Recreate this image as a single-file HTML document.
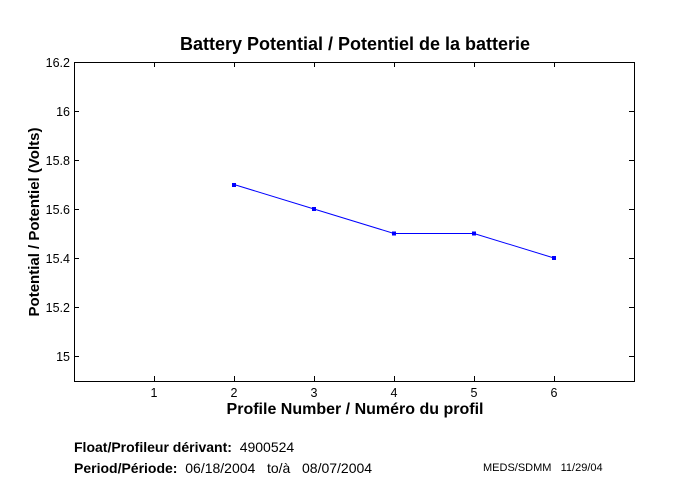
<!DOCTYPE html>
<html><head><style>body{margin:0;background:#fff}svg{display:block}text{white-space:pre}</style></head><body>
<svg width="680" height="500" xmlns="http://www.w3.org/2000/svg" font-family="Liberation Sans, sans-serif">
<rect width="680" height="500" fill="#fff"/>
<text x="355" y="50" font-size="18" font-weight="bold" text-anchor="middle">Battery Potential / Potentiel de la batterie</text>
<rect x="74.5" y="62.5" width="560" height="319" fill="none" stroke="#000" stroke-width="1"/>
<g stroke="#000" stroke-width="1">
<path d="M154.5 381v-5M234.5 381v-5M314.5 381v-5M394.5 381v-5M474.5 381v-5M554.5 381v-5"/>
<path d="M154.5 62v5M234.5 62v5M314.5 62v5M394.5 62v5M474.5 62v5M554.5 62v5"/>
<path d="M74 111.5h5M74 160.5h5M74 209.5h5M74 258.5h5M74 307.5h5M74 356.5h5"/>
<path d="M634 111.5h-5M634 160.5h-5M634 209.5h-5M634 258.5h-5M634 307.5h-5M634 356.5h-5"/>
</g>
<g font-size="12.5" text-anchor="end">
<text x="70" y="67">16.2</text><text x="70" y="116">16</text><text x="70" y="165">15.8</text>
<text x="70" y="214">15.6</text><text x="70" y="263">15.4</text><text x="70" y="312">15.2</text><text x="70" y="361">15</text>
</g>
<g font-size="12.5" text-anchor="middle">
<text x="154" y="397">1</text><text x="234" y="397">2</text><text x="314" y="397">3</text>
<text x="394" y="397">4</text><text x="474" y="397">5</text><text x="554" y="397">6</text>
</g>
<text x="355" y="414" font-size="16" font-weight="bold" text-anchor="middle">Profile Number / Numéro du profil</text>
<text transform="translate(39,222) rotate(-90)" font-size="15" font-weight="bold" text-anchor="middle">Potential / Potentiel (Volts)</text>
<polyline points="234,184.5 314,209 394,233.5 474,233.5 554,258" fill="none" stroke="#00f" stroke-width="1"/>
<g fill="#00f"><rect x="232" y="183" width="4" height="4"/><rect x="312" y="207" width="4" height="4"/><rect x="392" y="231.5" width="4" height="4"/><rect x="472" y="231.5" width="4" height="4"/><rect x="552" y="256" width="4" height="4"/></g>
<text x="74" y="452" font-size="14"><tspan font-weight="bold">Float/Profileur dérivant:</tspan>  4900524</text>
<text x="74" y="473" font-size="14"><tspan font-weight="bold">Period/Période:</tspan>  06/18/2004   to/à   08/07/2004</text>
<text x="483" y="471" font-size="11">MEDS/SDMM   11/29/04</text>
</svg>
</body></html>
